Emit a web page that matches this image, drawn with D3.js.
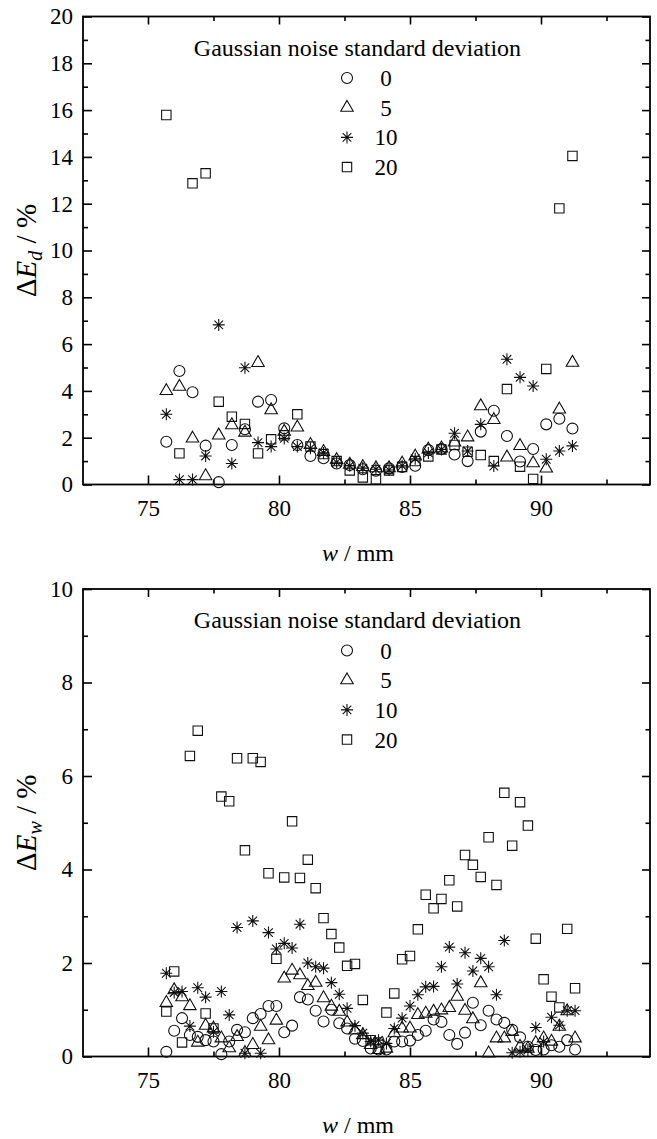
<!DOCTYPE html>
<html>
<head>
<meta charset="utf-8">
<script src="https://cdn.jsdelivr.net/npm/d3@7"></script>
<style>
  body { margin: 0; background: #fff; }
  text { font-family: "Liberation Serif", "Times New Roman", serif; fill: #000; }
</style>
</head>
<body>
<div id="chart"></div>
<script>
// noise levels shown in the legend
const noiseLevels = ["0", "5", "10", "20"];

// top panel: w in mm and ΔE_d in %
const topW = [75.7, 76.2, 76.7, 77.2, 77.7, 78.2, 78.7, 79.2, 79.7, 80.2, 80.7, 81.2, 81.7, 82.2, 82.7, 83.2,
    83.7, 84.2, 84.7, 85.2, 85.7, 86.2, 86.7, 87.2, 87.7, 88.2, 88.7, 89.2, 89.7, 90.2, 90.7, 91.2];
const topSd0 = [1.83, 4.85, 3.94, 1.66, 0.10, 1.69, 2.36, 3.54, 3.61, 2.40, 1.69, 1.22, 1.12, 0.90, 0.83, 0.65,
    0.59, 0.69, 0.75, 0.80, 1.47, 1.52, 1.28, 1.00, 2.26, 3.15, 2.07, 0.98, 1.52, 2.57, 2.81, 2.39];
const topSd5 = [4.00, 4.18, 1.97, 0.36, 2.10, 2.54, 2.22, 5.20, 3.18, 2.26, 2.44, 1.70, 1.40, 1.05, 0.85, 0.75,
    0.70, 0.70, 0.90, 1.20, 1.50, 1.55, 1.80, 2.02, 3.35, 2.76, 1.16, 1.65, 0.91, 0.69, 3.21, 5.21];
const topSd10 = [3.00, 0.21, 0.21, 1.22, 6.82, 0.90, 4.99, 1.79, 1.62, 1.97, 1.62, 1.55, 1.35, 0.95, 0.80, 0.70,
    0.65, 0.62, 0.80, 1.10, 1.35, 1.50, 2.19, 1.43, 2.57, 0.79, 5.35, 4.58, 4.21, 1.08, 1.43, 1.65];
const topSd20 = [15.79, 1.33, 12.87, 13.30, 3.54, 2.90, 2.59, 1.33, 1.93, 2.10, 3.00, 1.62, 1.30, 1.00, 0.60, 0.30,
    0.22, 0.60, 0.75, 1.00, 1.20, 1.50, 1.69, 1.40, 1.26, 1.00, 4.08, 0.76, 0.24, 4.94, 11.80, 14.04];

// bottom panel: w in mm and ΔE_w in %
const botW = [75.7, 76.0, 76.3, 76.6, 76.9, 77.2, 77.5, 77.8, 78.1, 78.4, 78.7, 79.0, 79.3, 79.6, 79.9, 80.2,
    80.5, 80.8, 81.1, 81.4, 81.7, 82.0, 82.3, 82.6, 82.9, 83.2, 83.5, 83.8, 84.1, 84.4, 84.7, 85.0, 85.3, 85.6,
    85.9, 86.2, 86.5, 86.8, 87.1, 87.4, 87.7, 88.0, 88.3, 88.6, 88.9, 89.2, 89.5, 89.8, 90.1, 90.4, 90.7, 91.0, 91.3];
const botSd0 = [0.10, 0.55, 0.82, 0.46, 0.42, 0.35, 0.32, 0.05, 0.32, 0.57, 0.52, 0.82, 0.91, 1.08, 1.08, 0.52,
    0.66, 1.27, 1.22, 0.98, 0.75, 1.00, 0.71, 0.60, 0.38, 0.33, 0.17, 0.15, 0.15, 0.32, 0.32, 0.34, 0.46, 0.55,
    0.79, 0.74, 0.46, 0.27, 0.51, 1.15, 0.67, 0.98, 0.79, 0.72, 0.57, 0.41, 0.21, 0.14, 0.15, 0.24, 0.21, 0.35, 0.15];
const botSd5 = [1.15, 1.42, 1.27, 1.08, 0.30, 0.66, 0.60, 0.39, 0.18, 0.42, 0.08, 0.25, 0.64, 0.35, 0.77, 1.67,
    1.84, 1.74, 1.51, 1.58, 1.25, 1.07, 0.96, 0.73, 0.56, 0.46, 0.25, 0.14, 0.17, 0.50, 0.60, 0.60, 0.89, 0.92,
    0.96, 0.99, 1.04, 1.28, 0.98, 0.80, 1.57, 0.07, 0.39, 0.39, 0.53, 0.21, 0.17, 0.29, 0.39, 0.32, 0.64, 0.97, 0.39];
const botSd10 = [1.78, 1.37, 1.39, 0.65, 1.47, 1.27, 0.53, 1.39, 0.89, 2.76, 0.07, 2.90, 0.07, 2.65, 2.30, 2.42,
    2.32, 2.83, 2.00, 1.92, 1.89, 1.58, 1.33, 1.03, 0.66, 0.50, 0.32, 0.35, 0.28, 0.60, 0.82, 1.08, 1.32, 1.49,
    1.50, 1.92, 2.34, 1.55, 2.22, 1.83, 2.10, 1.92, 1.32, 2.48, 0.08, 0.10, 0.14, 0.62, 0.32, 0.84, 0.67, 0.98, 0.98];
const botSd20 = [0.96, 1.82, 0.30, 6.43, 6.97, 0.92, 0.60, 5.56, 5.46, 6.38, 4.41, 6.38, 6.30, 3.92, 2.09, 3.83,
    5.03, 3.82, 4.21, 3.60, 2.96, 2.62, 2.33, 1.94, 1.98, 1.21, 0.35, 0.30, 0.94, 1.35, 2.08, 2.15, 2.72, 3.46,
    3.17, 3.37, 3.77, 3.21, 4.31, 4.10, 3.84, 4.69, 3.67, 5.64, 4.51, 5.44, 4.94, 2.52, 1.65, 1.28, 1.05, 2.73, 1.46];

const wSvg = 657;
const hSvg = 1139;
const left = 83, right = 650;

const svg = d3.select("#chart")
    .append("svg")
    .attr("width", wSvg)
    .attr("height", hSvg);

const xScale = d3.scaleLinear([72.52, 94.16], [left, right]);

// marker shapes, one per noise level
const shapes = ["circle", "triangle", "star", "square"];

function markerPath(shape) {
    if (shape == "circle") return d3.symbol(d3.symbolCircle, 95)();
    if (shape == "triangle") return d3.symbol(d3.symbolTriangle, 68)();
    if (shape == "square") return d3.symbol(d3.symbolSquare, 88)();
    // eight-armed asterisk
    const r = 6, q = 4.3;
    return `M0,${-r}V${r}M${-r},0H${r}M${-q},${-q}L${q},${q}M${-q},${q}L${q},${-q}`;
}

function renderPanel(top, bottom, yMax, yLabelSub, xs, seriesList) {
    const yScale = d3.scaleLinear([0, yMax], [bottom, top]);
    const g = svg.append("g");

    const majorX = [75, 80, 85, 90];
    const minorX = [77.5, 82.5, 87.5, 92.5];
    const majorY = d3.range(0, yMax + 1, 2);
    const minorY = d3.range(1, yMax, 2);

    // Axis
    g.append("g").attr("transform", `translate(0, ${bottom})`)
        .call(d3.axisBottom(xScale).tickValues(majorX).tickSize(-9).tickPadding(15).tickFormat(d3.format("d")));
    g.append("g").attr("transform", `translate(0, ${bottom})`)
        .call(d3.axisBottom(xScale).tickValues(minorX).tickSize(-5).tickFormat(""));
    g.append("g").attr("transform", `translate(0, ${top})`)
        .call(d3.axisTop(xScale).tickValues(majorX).tickSize(-8).tickFormat(""));
    g.append("g").attr("transform", `translate(0, ${top})`)
        .call(d3.axisTop(xScale).tickValues(minorX).tickSize(-4.5).tickFormat(""));

    g.append("g").attr("transform", `translate(${left}, 0)`)
        .call(d3.axisLeft(yScale).tickValues(majorY).tickSize(-9).tickPadding(10).tickFormat(d3.format("d")));
    g.append("g").attr("transform", `translate(${left}, 0)`)
        .call(d3.axisLeft(yScale).tickValues(minorY).tickSize(-5).tickFormat(""));
    g.append("g").attr("transform", `translate(${right}, 0)`)
        .call(d3.axisRight(yScale).tickValues(majorY).tickSize(-8).tickFormat(""));
    g.append("g").attr("transform", `translate(${right}, 0)`)
        .call(d3.axisRight(yScale).tickValues(minorY).tickSize(-4.5).tickFormat(""));

    g.selectAll(".domain").remove();
    g.selectAll(".tick line").attr("stroke", "#000").attr("stroke-width", 1.6);
    g.selectAll(".tick text")
        .style("font-family", '"Liberation Serif", "Times New Roman", serif')
        .style("font-size", "23px")
        .attr("fill", "#000");

    g.append("rect")
        .attr("x", left).attr("y", top)
        .attr("width", right - left).attr("height", bottom - top)
        .attr("fill", "none").attr("stroke", "#000").attr("stroke-width", 1.8);

    // Points
    seriesList.forEach((vals, si) => {
        g.append("g").selectAll("path")
            .data(vals.map((v, i) => ({ w: xs[i], v: v })))
            .enter()
            .append("path")
            .attr("d", markerPath(shapes[si]))
            .attr("transform", d => `translate(${xScale(d.w)}, ${yScale(d.v)})`)
            .attr("fill", "none")
            .attr("stroke", "#111")
            .attr("stroke-width", 1.1);
    });

    // Legend
    const cx = 357.5;
    g.append("text")
        .attr("x", cx).attr("y", top + 39)
        .attr("text-anchor", "middle")
        .style("font-size", "24px")
        .text("Gaussian noise standard deviation");
    noiseLevels.forEach((lab, i) => {
        const ly = top + 61.5 + 29.7 * i;
        g.append("path")
            .attr("d", markerPath(shapes[i]))
            .attr("transform", `translate(347, ${ly})`)
            .attr("fill", "none").attr("stroke", "#111").attr("stroke-width", 1.1);
        g.append("text")
            .attr("x", 386).attr("y", ly + 8)
            .attr("text-anchor", "middle")
            .style("font-size", "23px")
            .text(lab);
    });

    // Axis titles
    const xt = g.append("text")
        .attr("x", 358).attr("y", bottom + 76)
        .attr("text-anchor", "middle")
        .style("font-size", "24px");
    xt.append("tspan").style("font-style", "italic").text("w");
    xt.append("tspan").text(" / mm");

    const yt = g.append("text")
        .attr("transform", `translate(36, ${(top + bottom) / 2}) rotate(-90)`)
        .attr("text-anchor", "middle")
        .style("font-size", "29px");
    yt.append("tspan").text("Δ");
    yt.append("tspan").style("font-style", "italic").text("E");
    yt.append("tspan").style("font-style", "italic").style("font-size", "20px").attr("dy", 6).text(yLabelSub);
    yt.append("tspan").attr("dy", -6).text(" / %");
}

renderPanel(16.5, 484.5, 20, "d", topW, [topSd0, topSd5, topSd10, topSd20]);
renderPanel(589, 1056.5, 10, "w", botW, [botSd0, botSd5, botSd10, botSd20]);
</script>
</body>
</html>
